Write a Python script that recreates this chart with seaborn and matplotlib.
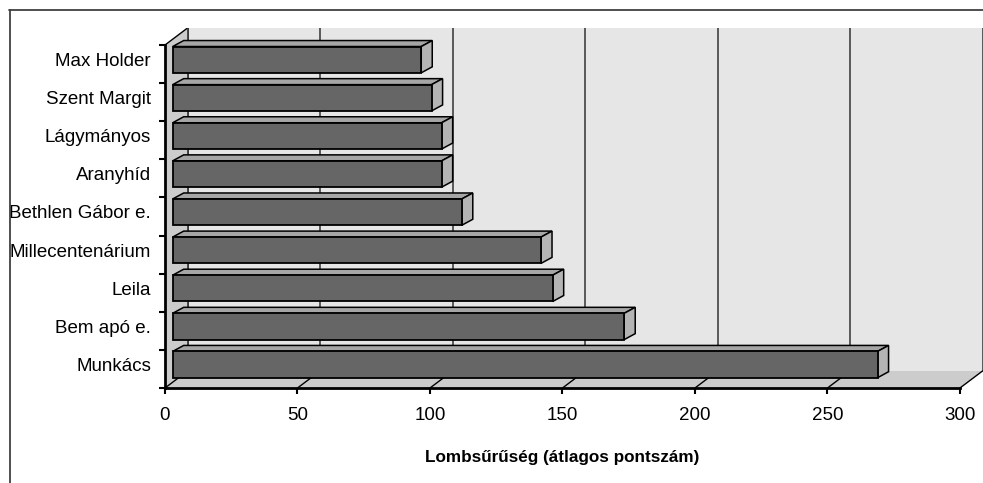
import numpy as np
import seaborn as sns
import matplotlib
matplotlib.use("Agg")
import matplotlib.pyplot as plt
from matplotlib import font_manager
from matplotlib.patches import Polygon
from matplotlib.lines import Line2D

# data (top to bottom as in the chart)
helyek = ["Max Holder", "Szent Margit", "Lágymányos", "Aranyhíd", "Bethlen Gábor e.",
          "Millecentenárium", "Leila", "Bem apó e.", "Munkács"]
lomb = [93.8, 97.7, 101.5, 101.5, 109.1, 139.0, 143.4, 170.4, 266.0]
x_ticks = [0, 50, 100, 150, 200, 250, 300]
x_title = "Lombsűrűség (átlagos pontszám)"

sns.set_theme(style="white")
names = {f.name for f in font_manager.fontManager.ttflist}
if "Liberation Sans Narrow" in names:
    plt.rcParams['font.family'] = ['Liberation Sans Narrow', 'DejaVu Sans']
    fs_tick, fs_title = 15.5, 14.5
else:
    plt.rcParams['font.family'] = ['Liberation Sans', 'DejaVu Sans']
    fs_tick, fs_title = 13.5, 12.3

# 3d look: depth offset of the walls and of the bars (value / category units)
xmax = 300
ncat = len(helyek)
DX, DY = 8.5, 0.446
OX = 2.9
bdx, bdy = 4.15, 0.157
b0, b1 = 0.27, 0.96

fig = plt.figure(figsize=(9.83, 4.83), dpi=100)
W, H = 983, 483
ax = fig.add_axes([165 / W, (H - 388) / H, 817.5 / W, 360 / H])
ax.set_xlim(0, xmax + DX)
ax.set_ylim(0, ncat + DY)

wall = "#e6e6e6"
side = "#cccccc"
edge = "black"

# back wall + gridlines
ax.add_patch(Polygon([(DX, DY), (xmax + DX, DY), (xmax + DX, ncat + DY), (DX, ncat + DY)],
                     closed=True, fc=wall, ec="none", zorder=0))
for t in x_ticks:
    ax.plot([t + DX, t + DX], [DY, ncat + DY], color="#333333", lw=1.1, zorder=1)

# floor
ax.add_patch(Polygon([(0, 0), (xmax, 0), (xmax + DX, DY), (DX, DY)],
                     closed=True, fc=side, ec="none", zorder=2))
for t in x_ticks:
    ax.plot([t, t + DX], [0, DY], color=edge, lw=1.0, zorder=3)

# left wall
ax.add_patch(Polygon([(0, 0), (DX, DY), (DX, ncat + DY), (0, ncat)],
                     closed=True, fc=side, ec="none", zorder=2))
ax.plot([0, DX], [ncat, ncat + DY], color=edge, lw=1.0, zorder=3)
ax.plot([DX, DX], [DY, ncat + DY], color="#333333", lw=1.1, zorder=3)

# bars
ypos = np.arange(ncat)[::-1]
ax.barh(ypos + b0, lomb, height=b1 - b0, left=OX, align="edge",
        color="#666666", edgecolor=edge, linewidth=1.3, zorder=6)
for y, v in zip(ypos, lomb):
    top = [(OX, y + b1), (OX + v, y + b1), (OX + v + bdx, y + b1 + bdy), (OX + bdx, y + b1 + bdy)]
    ax.add_patch(Polygon(top, closed=True, fc="#a6a6a6", ec=edge, lw=1.1, zorder=5))
    sd = [(OX + v, y + b0), (OX + v + bdx, y + b0 + bdy), (OX + v + bdx, y + b1 + bdy), (OX + v, y + b1)]
    ax.add_patch(Polygon(sd, closed=True, fc="#b4b4b4", ec=edge, lw=1.1, zorder=5))

# axes
for s in ["top", "right"]:
    ax.spines[s].set_visible(False)
ax.spines["bottom"].set_bounds(0, xmax)
ax.spines["left"].set_bounds(0, ncat)
for s in ["bottom", "left"]:
    ax.spines[s].set_color(edge)
    ax.spines[s].set_linewidth(2)
    ax.spines[s].set_zorder(8)

ax.set_xticks(x_ticks)
ax.set_xticklabels([str(t) for t in x_ticks])
ax.set_yticks(np.arange(ncat + 1))
ax.set_yticklabels([])
ax.set_yticks(ypos + 0.62, minor=True)
ax.set_yticklabels(helyek, minor=True)
ax.tick_params(axis="x", which="major", direction="out", length=4, width=1.5, color=edge,
               bottom=True, labelsize=fs_tick, pad=10, labelcolor="black")
ax.tick_params(axis="y", which="major", direction="out", length=4, width=1.5, color=edge, left=True)
ax.tick_params(axis="y", which="minor", length=0, pad=10, labelsize=fs_tick, labelcolor="black")
ax.grid(False)
ax.set_facecolor("none")

ax.set_xlabel(x_title, fontsize=fs_title, fontweight="bold", color="black")
ax.xaxis.set_label_coords((562.5 - 165) / 817.5, (388 - 450) / 360)

# outer frame
fig.add_artist(Line2D([9.5 / W, 9.5 / W], [0, (H - 10) / H], transform=fig.transFigure,
                      color="#404040", lw=1.3))
fig.add_artist(Line2D([9 / W, 1], [(H - 10) / H, (H - 10) / H], transform=fig.transFigure,
                      color="#404040", lw=1.3))

fig.savefig("out.png", dpi=100)
